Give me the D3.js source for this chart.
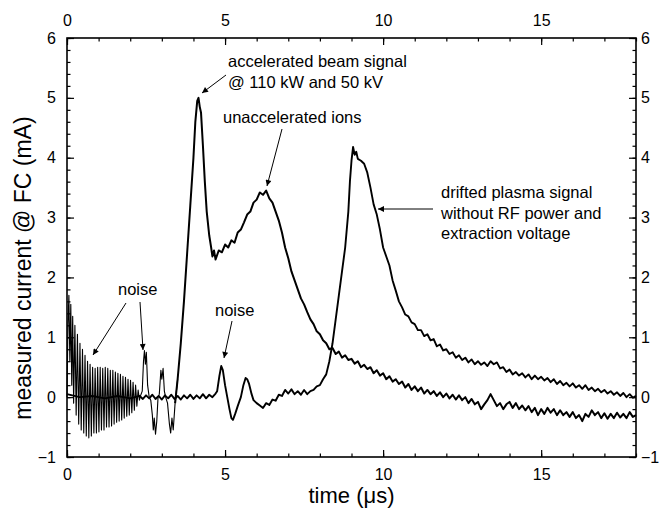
<!DOCTYPE html>
<html><head><meta charset="utf-8">
<script src="https://cdn.jsdelivr.net/npm/d3@7"></script>
<style>
body{margin:0;background:#fff;}
text{font-family:"Liberation Sans",Arial,sans-serif;fill:#000;}
</style></head><body>
<svg id="c" width="659" height="514"></svg>
<script>
// ---- data (time in µs, current in mA) ----
const xTicks = [0, 5, 10, 15];
const yTicks = [-1, 0, 1, 2, 3, 4, 5, 6];
const xLabel = "time (\u03bcs)";
const yLabel = "measured current @ FC (mA)";

// accelerated beam signal @ 110 kW and 50 kV
const beamTime = [0,0.03,0.06,0.09,0.12,0.15,0.18,0.21,0.25,0.29,0.33,0.37,0.41,0.45,0.49,0.53,0.57,0.61,0.65,0.69,0.73,0.77,0.81,0.85,0.89,0.93,0.97,1.01,1.05,1.09,1.13,1.17,1.21,1.25,1.29,1.33,1.37,1.41,1.45,1.49,1.53,1.57,1.61,1.65,1.69,1.73,1.77,1.81,1.85,1.89,1.93,1.97,2.01,2.05,2.09,2.13,2.17,2.21,2.25,2.29,2.33,2.38,2.42,2.45,2.48,2.51,2.55,2.6,2.65,2.7,2.73,2.76,2.8,2.84,2.88,2.92,2.97,3.0,3.04,3.08,3.12,3.18,3.24,3.28,3.32,3.36,3.42,3.5,3.6,3.7,3.8,3.9,4.0,4.06,4.12,4.16,4.2,4.24,4.3,4.36,4.42,4.5,4.56,4.6,4.65,4.7,
4.8,4.9,5.0,5.1,5.2,5.3,5.4,5.5,5.6,5.7,5.8,5.9,6.0,6.1,6.2,6.3,6.4,6.5,6.6,6.7,6.8,6.9,7.0,7.1,7.2,7.3,7.4,7.5,7.6,7.7,7.8,7.9,8.0,8.1,8.2,8.3,8.4,8.5,8.6,8.7,8.8,8.9,9.0,9.1,9.2,9.3,9.4,9.5,9.6,9.7,9.8,9.9,10.0,10.1,10.2,10.3,10.4,10.5,10.6,10.7,10.8,10.9,11.0,11.1,11.2,11.3,11.4,11.5,11.6,11.7,11.8,11.9,12.0,12.1,12.2,12.3,12.4,12.5,12.6,12.7,12.8,12.9,13.0,13.1,13.2,13.3,13.4,13.5,13.6,13.7,13.8,13.9,14.0,14.1,14.2,14.3,14.4,14.5,14.6,14.7,14.8,14.9,15.0,15.1,15.2,15.3,15.4,15.5,15.6,15.7,15.8,15.9,16.0,16.1,16.2,16.3,16.4,16.5,16.6,16.7,16.8,16.9,17.0,17.1,17.2,17.3,17.4,17.5,17.6,17.7,17.8,17.9,18.0];
const beamCurrent = [0,1.2,1.7,0.6,1.55,0.2,1.35,-0.1,1.2,-0.3,1.05,-0.45,0.9,-0.55,0.8,-0.6,0.7,-0.65,0.6,-0.68,0.55,-0.65,0.5,-0.6,0.48,-0.6,0.5,-0.58,0.5,-0.55,0.48,-0.55,0.5,-0.5,0.48,-0.5,0.45,-0.48,0.45,-0.45,0.42,-0.42,0.4,-0.4,0.38,-0.38,0.35,-0.35,0.33,-0.32,0.3,-0.3,0.28,-0.26,0.25,-0.22,0.2,-0.15,0.12,-0.05,0.03,0.1,0.6,0.78,0.55,0.75,0.2,0.0,-0.05,-0.3,-0.55,-0.35,-0.62,-0.4,0.0,0.05,0.45,0.3,0.48,0.1,0.0,-0.1,-0.45,-0.6,-0.35,-0.55,-0.1,0.3,0.9,1.6,2.4,3.2,4.0,4.6,4.95,5.0,4.85,4.75,4.2,3.6,3.1,2.7,2.5,2.35,2.45,2.3,
2.45,2.42,2.55,2.5,2.62,2.58,2.75,2.8,2.92,3.05,3.1,3.25,3.3,3.42,3.38,3.45,3.32,3.25,3.1,2.95,2.75,2.5,2.32,2.1,1.95,1.8,1.65,1.55,1.42,1.3,1.22,1.1,1.05,0.95,0.9,0.8,0.82,0.72,0.76,0.66,0.7,0.62,0.64,0.56,0.6,0.5,0.54,0.47,0.5,0.4,0.45,0.36,0.4,0.3,0.35,0.26,0.3,0.22,0.26,0.16,0.22,0.12,0.18,0.1,0.16,0.06,0.12,0.05,0.1,0.02,0.08,0.0,0.06,-0.02,0.04,-0.04,0.03,-0.05,0.0,-0.1,-0.03,-0.12,-0.08,-0.2,-0.12,-0.05,0.05,-0.05,-0.15,-0.1,-0.2,-0.12,-0.08,-0.18,-0.1,-0.2,-0.14,-0.22,-0.15,-0.25,-0.18,-0.3,-0.2,-0.28,-0.18,-0.26,-0.2,-0.3,-0.22,-0.3,-0.25,-0.33,-0.25,-0.35,-0.3,-0.4,-0.28,-0.33,-0.22,-0.3,-0.25,-0.35,-0.27,-0.36,-0.28,-0.35,-0.26,-0.34,-0.28,-0.35,-0.25,-0.33,-0.3];

// drifted plasma signal without RF power and extraction voltage
const plasmaTime = [0.0,0.4,0.8,1.2,1.6,2.0,2.3,2.4,2.5,2.6,2.7,2.8,2.9,3.0,3.1,3.2,3.3,3.4,3.5,3.6,3.7,3.8,3.9,4.0,4.1,4.2,4.3,4.4,4.5,4.6,4.7,4.75,4.82,4.88,4.93,5.0,5.07,5.14,5.2,5.25,5.32,5.4,5.5,5.58,5.65,5.7,5.76,5.84,5.9,6.0,6.1,6.2,6.3,6.4,6.5,6.6,6.7,6.8,6.9,7.0,7.1,7.2,7.3,7.4,7.5,7.6,7.7,7.8,7.9,8.0,8.1,8.2,8.3,8.4,8.5,8.6,8.7,8.8,8.9,8.95,9.0,9.05,9.1,9.15,9.2,9.3,9.4,9.5,9.6,9.7,9.8,9.9,10.0,10.1,10.2,10.3,10.4,10.5,10.6,10.7,10.8,10.9,11.0,11.1,11.2,11.3,11.4,11.5,11.6,11.7,11.8,11.9,12.0,12.1,12.2,12.3,12.4,12.5,12.6,12.7,12.8,12.9,13.0,13.1,13.2,13.3,13.4,13.5,13.6,13.7,13.8,13.9,14.0,14.1,14.2,14.3,14.4,14.5,14.6,14.7,14.8,14.9,15.0,15.1,15.2,15.3,15.4,15.5,15.6,15.7,15.8,15.9,16.0,16.1,16.2,16.3,16.4,16.5,16.6,16.7,16.8,16.9,17.0,17.1,17.2,17.3,17.4,17.5,17.6,17.7,17.8,17.9,18.0];
const plasmaCurrent = [0.05,0.0,0.02,-0.02,0.02,-0.02,0.02,-0.03,0.03,-0.02,0.04,-0.03,0.02,-0.04,0.03,-0.02,0.04,-0.03,0.02,-0.04,0.03,-0.02,0.04,-0.03,0.03,-0.02,0.05,-0.02,0.04,0.0,0.06,0.1,0.35,0.52,0.45,0.2,0.0,-0.2,-0.35,-0.38,-0.28,-0.15,0.0,0.2,0.32,0.3,0.22,0.05,-0.05,-0.1,-0.14,-0.18,-0.1,-0.13,-0.04,-0.06,0.04,0.02,0.12,0.06,0.13,0.05,0.1,0.04,0.12,0.05,0.1,0.12,0.18,0.2,0.3,0.38,0.6,0.9,1.3,1.7,2.1,2.5,3.1,3.6,3.95,4.18,4.05,4.1,3.98,3.95,3.9,3.75,3.5,3.22,3.05,2.8,2.5,2.35,2.2,1.95,1.78,1.6,1.5,1.38,1.35,1.25,1.22,1.12,1.12,1.02,1.05,0.95,0.97,0.85,0.88,0.78,0.8,0.72,0.75,0.66,0.7,0.62,0.66,0.58,0.63,0.55,0.6,0.54,0.58,0.52,0.6,0.55,0.58,0.48,0.5,0.42,0.46,0.38,0.42,0.36,0.4,0.33,0.38,0.3,0.36,0.3,0.34,0.28,0.32,0.25,0.3,0.22,0.27,0.2,0.24,0.18,0.23,0.16,0.2,0.14,0.2,0.12,0.16,0.1,0.14,0.08,0.12,0.06,0.1,0.04,0.08,0.02,0.07,0.0,0.05,-0.01,0.02];

const annotations = [
  {lines:["accelerated beam signal","@ 110 kW and 50 kV"], x:228, y:67, arrows:[[226,75,202,93]]},
  {lines:["unaccelerated ions"], x:223, y:123, arrows:[[282,129,267,186]]},
  {lines:["drifted plasma signal","without RF power and","extraction voltage"], x:441, y:198, arrows:[[433,209,378,209]]},
  {lines:["noise"], x:118, y:295, arrows:[[126,303,93,355],[140,302,143,350]]},
  {lines:["noise"], x:215, y:316, arrows:[[232,321,224,358]]}
];

// ---- layout ----
const W = 659, H = 514;
const m = {left:67, right:23, top:38, bottom:57};
const svg = d3.select("#c");
const x = d3.scaleLinear().domain([0,18]).range([m.left, W - m.right]);
const y = d3.scaleLinear().domain([-1,6]).range([H - m.bottom, m.top]);

// traces
const line = d3.line().x(d => x(d[0])).y(d => y(d[1]));
const beam = beamTime.map((t,i)=>[t,beamCurrent[i]]);
const plasma = plasmaTime.map((t,i)=>[t,plasmaCurrent[i]]);
const g = svg.append("g");
function trace(data, w){
  g.append("path").datum(data).attr("d", line).attr("fill","none")
   .attr("stroke","#000").attr("stroke-width",w).attr("stroke-linejoin","round");
}
trace(plasma, 1.9);
trace(beam.filter(d=>d[0] <= 3.5), 1.1);
trace(beam.filter(d=>d[0] >= 3.42), 2.0);

// axes
const minorX = d3.range(0, 18.001, 1);
const minorY = d3.range(-1, 6.001, 0.2);
const fs = 16;
function styleAxis(sel){
  sel.select(".domain").remove();
  sel.selectAll(".tick line").attr("stroke","#000").attr("stroke-width",1.2);
  sel.selectAll(".tick text").style("font-size", fs+"px").style("font-family","Liberation Sans, Arial, sans-serif");
}
function addAxis(axisFn, scale, vals, pos, size, pad, fmt){
  const isH = (axisFn === d3.axisBottom || axisFn === d3.axisTop);
  const a = svg.append("g").attr("transform", isH ? `translate(0,${pos})` : `translate(${pos},0)`)
    .call(axisFn(scale).tickValues(vals).tickSize(size).tickPadding(pad).tickFormat(fmt));
  styleAxis(a);
}
// minor ticks
addAxis(d3.axisBottom, x, minorX, y(-1), -3.5, 0, "");
addAxis(d3.axisTop, x, minorX, y(6), -3.5, 0, "");
addAxis(d3.axisLeft, y, minorY, x(0), -3.5, 0, "");
addAxis(d3.axisRight, y, minorY, x(18), -3.5, 0, "");
// major ticks + labels
addAxis(d3.axisBottom, x, xTicks, y(-1), -7, 12, d3.format("d"));
addAxis(d3.axisTop, x, xTicks, y(6), -7, 12, d3.format("d"));
addAxis(d3.axisLeft, y, yTicks, x(0), -7, 11, d3.format("d"));
addAxis(d3.axisRight, y, yTicks, x(18), -7, 5, d3.format("d"));

// frame
svg.append("rect").attr("x",x(0)).attr("y",y(6)).attr("width",x(18)-x(0)).attr("height",y(-1)-y(6))
  .attr("fill","none").attr("stroke","#000").attr("stroke-width",1.6);

// axis titles
svg.append("text").attr("x",(x(0)+x(18))/2).attr("y",503).attr("text-anchor","middle")
  .style("font-size","22px").text(xLabel);
svg.append("text").attr("transform","translate(31,268) rotate(-90)").attr("text-anchor","middle")
  .style("font-size","23px").text(yLabel);

// annotations
const defs = svg.append("defs");
defs.append("marker").attr("id","ah").attr("viewBox","0 0 10 10").attr("refX",10).attr("refY",5)
  .attr("markerWidth",11).attr("markerHeight",6).attr("markerUnits","userSpaceOnUse").attr("orient","auto")
  .append("path").attr("d","M0,0 L10,5 L0,10 Z").attr("fill","#000");
annotations.forEach(a=>{
  a.lines.forEach((l,i)=>{
    svg.append("text").attr("x",a.x).attr("y",a.y + i*20.5).style("font-size","16.5px").text(l);
  });
  a.arrows.forEach(ar=>{
    svg.append("line").attr("x1",ar[0]).attr("y1",ar[1]).attr("x2",ar[2]).attr("y2",ar[3])
      .attr("stroke","#000").attr("stroke-width",1).attr("marker-end","url(#ah)");
  });
});
</script></body></html>
